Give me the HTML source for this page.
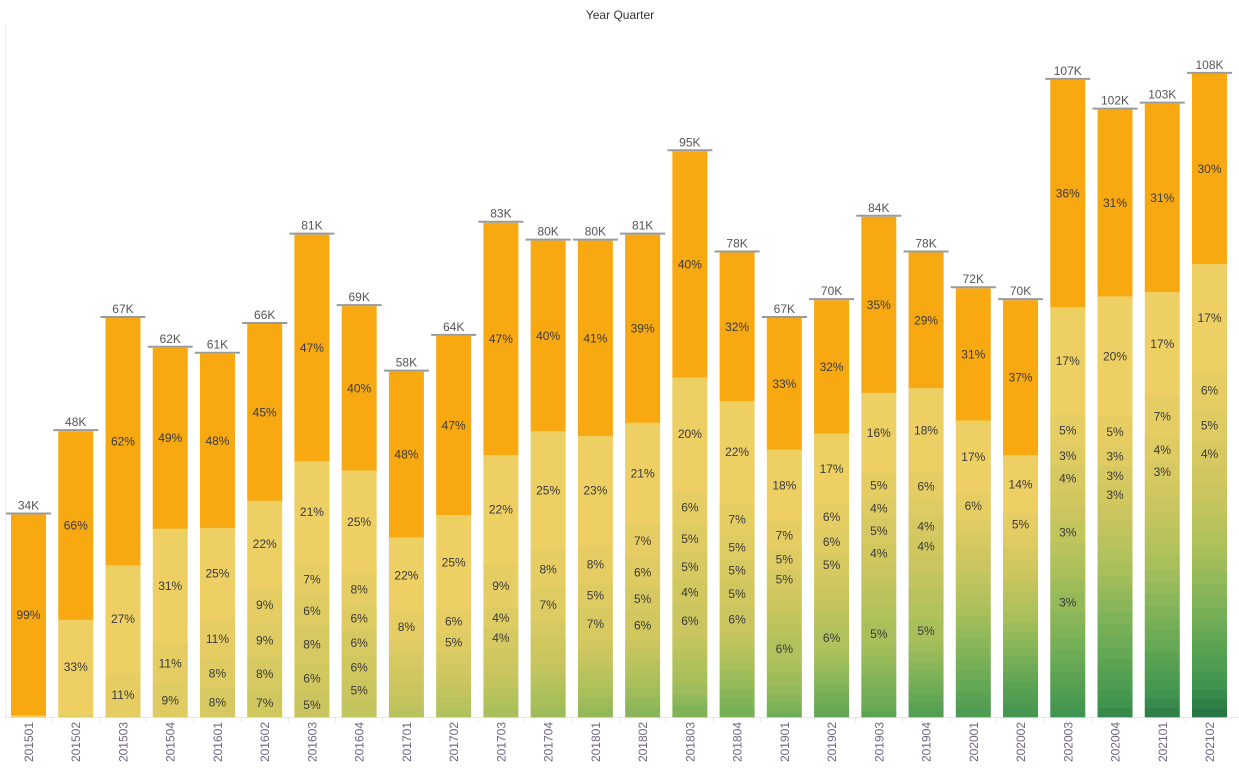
<!DOCTYPE html>
<html><head><meta charset="utf-8"><style>
html,body{margin:0;padding:0;background:#fff;}
svg{display:block;font-family:"Liberation Sans",sans-serif;}
</style></head><body>
<svg id="chart" width="1239" height="783" viewBox="0 0 1239 783" xmlns="http://www.w3.org/2000/svg">
<text x="620" y="19" text-anchor="middle" font-size="12" fill="#333">Year Quarter</text>
<line x1="5.5" y1="25" x2="5.5" y2="717" stroke="#eee"/>
<line x1="5" y1="717.5" x2="1239" y2="717.5" stroke="#e6e6e6"/>
<g id="bars"></g>
</svg>
<script>
const categories=["201501","201502","201503","201504","201601","201602","201603","201604","201701","201702","201703","201704","201801","201802","201803","201804","201901","201902","201903","201904","202001","202002","202003","202004","202101","202102"];
const totals=[34,48,67,62,61,66,81,69,58,64,83,80,80,81,95,78,67,70,84,78,72,70,107,102,103,108];
const totalLabels=["34K","48K","67K","62K","61K","66K","81K","69K","58K","64K","83K","80K","80K","81K","95K","78K","67K","70K","84K","78K","72K","70K","107K","102K","103K","108K"];
const shares=[
[99.2,0.8],
[66,33,1],
[62,27,11],
[49,31,11,9],
[48,25,11,8,8],
[45,22,9,9,8,7],
[47,21,7,6,8,6,5],
[40,25,8,6,6,6,5,4],
[48,22,8,4,4,4,4,3,3],
[47,25,6,5,3,3,3,3,3,2],
[47,22,9,4,4,3,3,2,2,2,2],
[40,25,8,7,3,3,3,2,2,2,3,2],
[41,23,8,5,7,2,2,2,2,2,2,2,2],
[39,21,7,6,5,6,2,2,2,2,2,2,2,2],
[40,20,6,5,5,4,6,2,2,2,2,2,1,1,2],
[32,22,7,5,5,5,6,2,2,2,2,2,2,2,2,2],
[33,18,7,5,5,3,3,3,3,6,3,3,2,2,2,1,1],
[32,17,6,6,5,3,3,3,3,6,2,2,2,2,2,2,2,2],
[35,16,5,4,5,4,3,2,3.5,3,5,2,2,2,2,2,2,1,1],
[29,18,6,3.5,4.2,4.2,3.5,3.5,3.5,3,5,2,2,1.7,1.7,1.7,1.7,1.7,1.7,1.7],
[31,17,6,3.5,3,3,3,3,2.5,2.5,2.5,2.5,2.5,2.5,2.5,2.5,2.5,2.5,2,2,2],
[37,14,5,3,3,2.5,2.5,2.5,2.5,2.5,2.5,2,2,2,2,2,2,2,2,2,2,2.5],
[36,17,5,3.1,4,2.5,2.5,3.1,2,2,2,2,3.1,2,2,2,1.8,1.8,1.5,1.5,1.5,1.5,1],
[31,20,5,3.2,3.2,3.2,2.5,2.5,2.5,2.2,2,2,2,2,2,2,2,1.8,1.8,1.8,1.6,1.5,1.5,1.5],
[31,17,7,4,3.2,2.6,2.5,2.5,2.4,2.3,2.2,2,2,2,2,1.8,1.8,1.8,1.6,1.6,1.6,1.5,1.5,1.5,1.5],
[30,17,6,5,4,2.8,2.6,2.5,2.4,2.2,2,2,2,2,1.8,1.8,1.8,1.6,1.6,1.6,1.5,1.5,1.5,1.5,1.5,1.3]
];
const NS="http://www.w3.org/2000/svg";
const baseY=717, pxPerK=5.955, x0=28.5, step=47.24, bw=35;
function yScale(v){return baseY-v*pxPerK;}
function xScale(i){return x0+i*step;}
const stops=[[0,[248,169,18]],[1,[237,207,100]],[3,[222,203,98]],[6,[202,197,94]],[10,[168,191,90]],[14,[128,179,88]],[18,[91,163,83]],[22,[63,148,80]],[25,[38,118,67]]];
function colorFor(k){
  if(k===0)return"rgb(248,169,18)";
  for(let s=1;s<stops.length-1;s++){const a=stops[s],b=stops[s+1];
    if(k<=b[0]){const t=(k-a[0])/(b[0]-a[0]);
      return"rgb("+a[1].map((c,j)=>Math.round(c+(b[1][j]-c)*t)).join(",")+")";}}
  return"rgb(38,118,67)";
}
const g=document.getElementById("bars");
function mk(tag,attrs){const e=document.createElementNS(NS,tag);for(const k in attrs)e.setAttribute(k,attrs[k]);return e;}
categories.forEach((cat,i)=>{
  const cx=xScale(i), total=totals[i];
  const sum=shares[i].reduce((a,b)=>a+b,0);
  const top=yScale(total);
  let y=top;
  shares[i].forEach((p,k)=>{
    const h=p/sum*(baseY-top);
    const r=mk("rect",{x:cx-bw/2,y:y,width:bw,height:h+0.3,fill:colorFor(k)});
    
    
    g.appendChild(r);
    if(h>=19){
      const t=mk("text",{x:cx,y:y+h/2+4,"text-anchor":"middle","font-size":"12",fill:"#3a3a3a"});
      
      
      t.textContent=Math.round(p)+"%";
      g.appendChild(t);
    }
    y+=h;
  });
  const ln=mk("line",{x1:cx-bw/2-5,x2:cx+bw/2+5,y1:top-1,y2:top-1,stroke:"#9a9a9a","stroke-width":"2"});
  
  
  g.appendChild(ln);
  const tl=mk("text",{x:cx,y:top-5,"text-anchor":"middle","font-size":"12",fill:"#555"});
  
  
  tl.textContent=totalLabels[i];
  g.appendChild(tl);
  const xl=mk("text",{x:0,y:0,"text-anchor":"end","font-size":"12",fill:"#6e6480",transform:"translate("+(cx+4.5)+",722) rotate(-90)"});
  
  
  xl.textContent=cat;
  g.appendChild(xl);
  if(i>0){const tk=mk("line",{x1:cx-step/2,x2:cx-step/2,y1:717,y2:722,stroke:"#e6e6e6"});
    
    
    g.appendChild(tk);}
});
</script>
</body></html>
